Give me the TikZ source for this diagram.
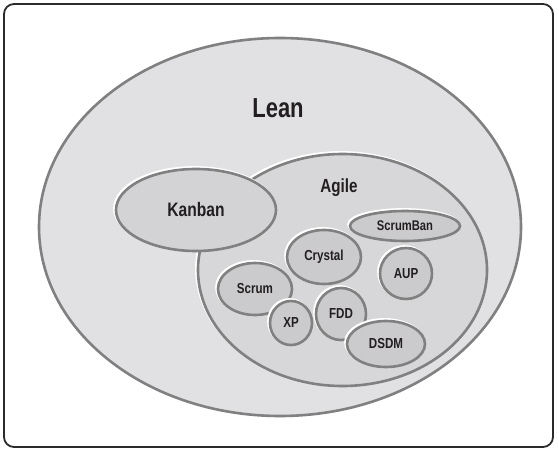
\documentclass[tikz,border=0pt]{standalone}
\usepackage{fontspec}
\setmainfont{Liberation Sans}[FakeStretch=0.8]
\usetikzlibrary{shapes.geometric}
\definecolor{leanfill}{HTML}{E1E1E3}
\definecolor{agilefill}{HTML}{D7D7D9}
\definecolor{kanfill}{HTML}{D3D3D5}
\definecolor{innerfill}{HTML}{CBCBCD}
\definecolor{edge}{HTML}{808080}
\definecolor{frame}{HTML}{2B2B2B}
\definecolor{ink}{HTML}{231F20}
\begin{document}
\begin{tikzpicture}[x=1pt,y=1pt,
  blob/.style={ellipse, inner sep=0pt, draw=edge, line width=2.6pt, text=ink, font=\bfseries\fontsize{14.5}{15}\selectfont,
    preaction={draw=white, line width=2.6pt, transform canvas={shift={(-1.6pt,1.6pt)}}}},
  lbl/.style={text=ink, inner sep=0pt}]
\useasboundingbox (0,0) rectangle (559,450);
\draw[frame, line width=1.8pt, rounded corners=10pt, fill=white] (4,3) rectangle (553,446);
\node[blob, fill=leanfill, minimum width=482pt, minimum height=378pt] (lean) at (280,223) {};
\node[blob, fill=agilefill, minimum width=289pt, minimum height=232pt] (agile) at (342.5,180) {};
\node[blob, fill=kanfill, minimum width=160pt, minimum height=82pt, font=\bfseries\fontsize{19.5}{20}\selectfont] (kanban) at (196,240) {Kanban};
\node[lbl, font=\bfseries\fontsize{27.5}{28}\selectfont] (leanlbl) at (278,342) {Lean};
\node[lbl, font=\bfseries\fontsize{19}{20}\selectfont] (agilelbl) at (339,262) {Agile};
\node[blob, fill=innerfill, minimum width=110pt, minimum height=30pt, font=\bfseries\fontsize{14}{15}\selectfont] (scrumban) at (405,224) {ScrumBan};
\node[blob, fill=innerfill, minimum width=74pt, minimum height=54pt] (crystal) at (324,193) {Crystal};
\node[blob, fill=innerfill, minimum width=52pt, minimum height=51pt] (aup) at (406,176.5) {AUP};
\node[blob, fill=innerfill, minimum width=74pt, minimum height=52pt] (scrum) at (255,161) {Scrum};
\node[blob, fill=innerfill, minimum width=42pt, minimum height=44pt] (xp) at (291,127) {XP};
\node[blob, fill=innerfill, minimum width=50pt, minimum height=52pt] (fdd) at (341,136) {FDD};
\node[blob, fill=innerfill, minimum width=78pt, minimum height=46pt] (dsdm) at (386,106) {DSDM};
\end{tikzpicture}
\end{document}
